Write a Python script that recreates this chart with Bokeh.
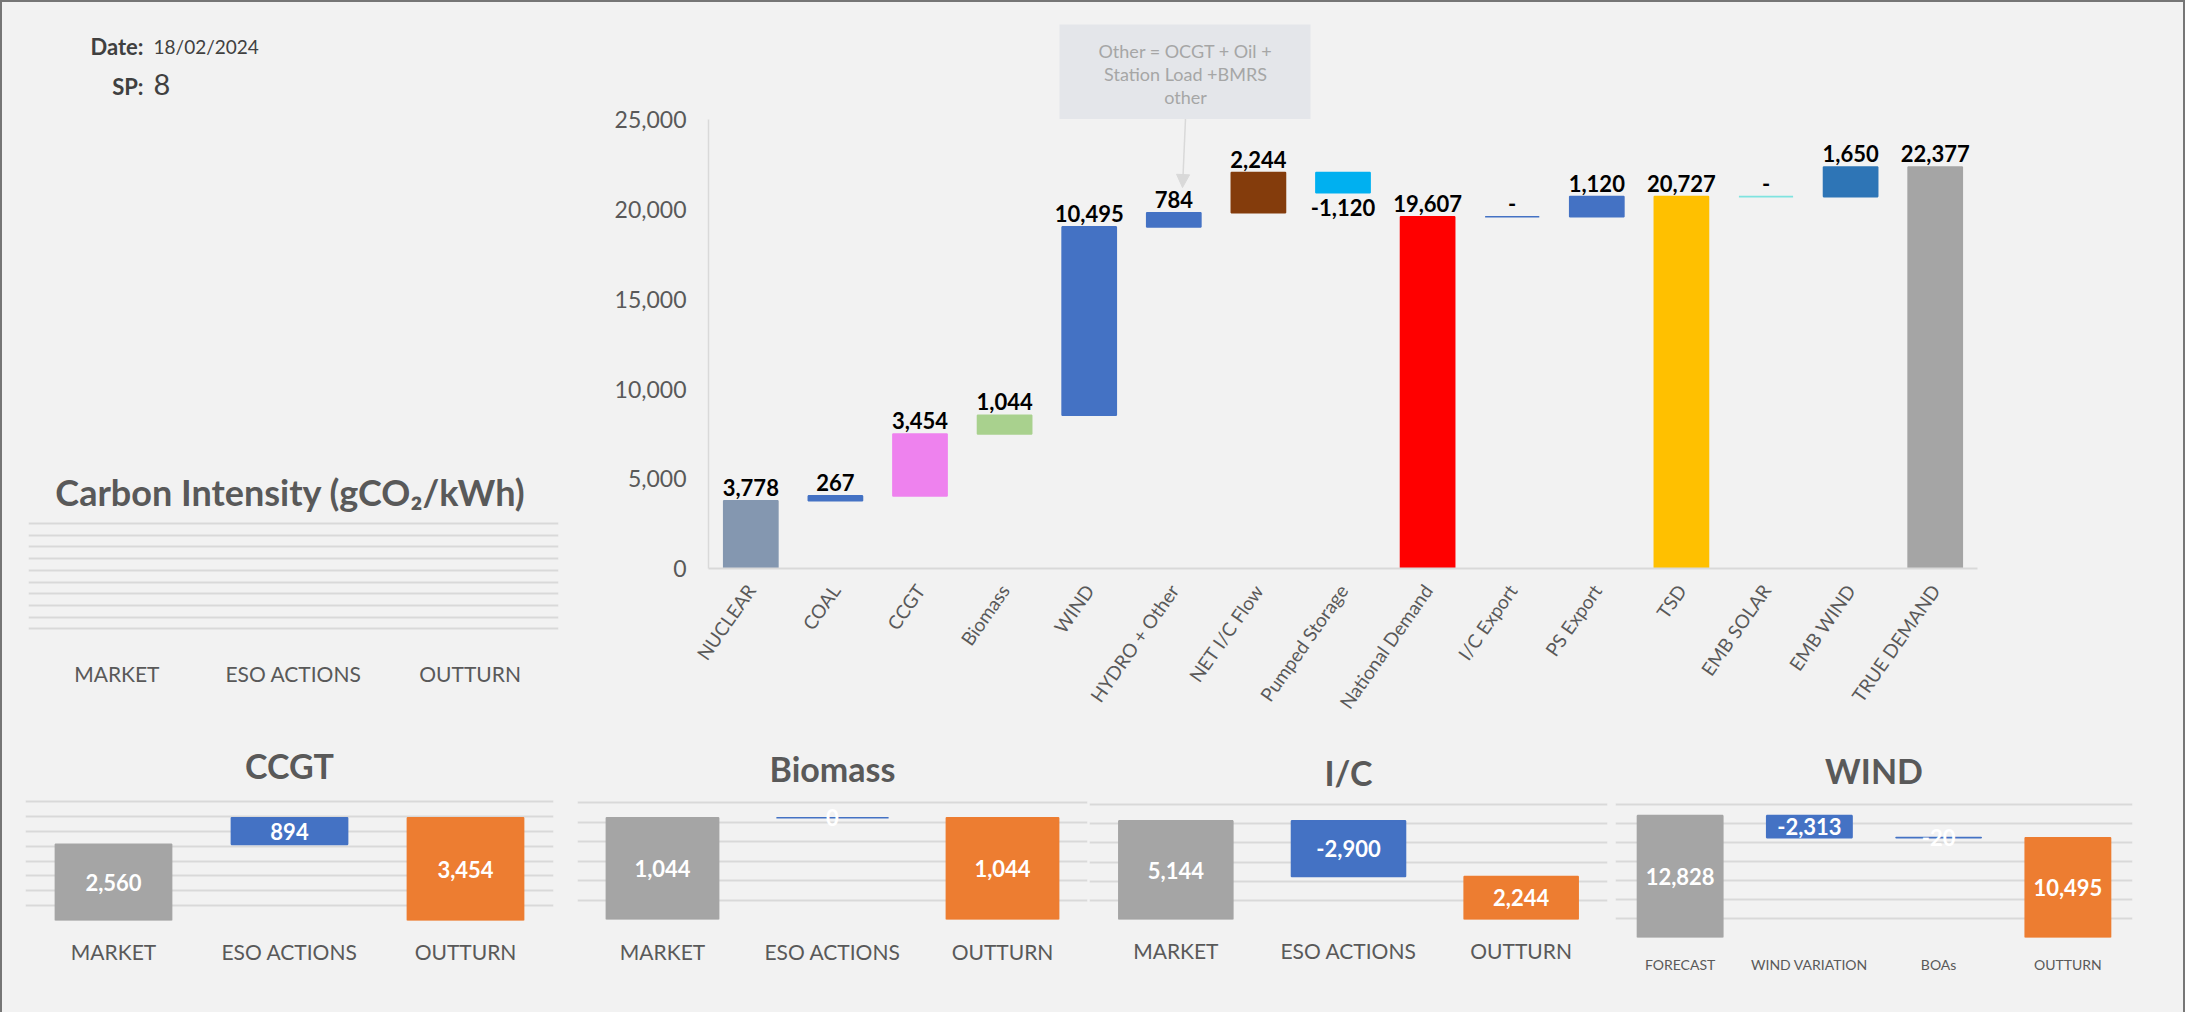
import re
from bokeh.plotting import figure
from bokeh.models import (ColumnDataSource, Label, BoxAnnotation, Arrow, NormalHead,
                          FixedTicker, NumeralTickFormatter, Range1d, FactorRange)
from bokeh.layouts import row, column
from bokeh.embed import file_html
from bokeh.resources import INLINE
from bokeh.core.properties import value, field

BG = "#f2f2f2"
FONT = "Lato"
GREY_TXT = "#595959"
GRID = "#d9d9d9"

# ---------------- data ----------------
date_text = "18/02/2024"
sp_value = "8"

categories = ["NUCLEAR", "COAL", "CCGT", "Biomass", "WIND", "HYDRO + Other",
              "NET I/C Flow", "Pumped Storage", "National Demand", "I/C Export",
              "PS Export", "TSD", "EMB SOLAR", "EMB WIND", "TRUE DEMAND"]
values = [3778, 267, 3454, 1044, 10495, 784, 2244, -1120, 19607, 0, 1120, 20727, 0, 1650, 22377]
is_total = [False, False, False, False, False, False, False, False, True,
            False, False, True, False, False, True]
bar_colors = ["#8497b0", "#4472c4", "#ee82ee", "#a9d18e", "#4472c4", "#4472c4",
              "#843c0c", "#00b0f0", "#ff0000", "#4472c4", "#4472c4", "#ffc000",
              "#7fe3df", "#2e75b6", "#a5a5a5"]
y_ticks = [0, 5000, 10000, 15000, 20000, 25000]

ci_categories = ["MARKET", "ESO ACTIONS", "OUTTURN"]

ccgt_categories = ["MARKET", "ESO ACTIONS", "OUTTURN"]
ccgt_values = [2560, 894, 3454]
biomass_categories = ["MARKET", "ESO ACTIONS", "OUTTURN"]
biomass_values = [1044, 0, 1044]
ic_categories = ["MARKET", "ESO ACTIONS", "OUTTURN"]
ic_values = [5144, -2900, 2244]
wind_categories = ["FORECAST", "WIND VARIATION", "BOAs", "OUTTURN"]
wind_values = [12828, -2313, -20, 10495]

callout_lines = ["Other = OCGT + Oil +", "Station Load +BMRS", "other"]

# page geometry (content starts after the 2px border)
LEFT0 = 2
TOP0 = 2
RIGHT1 = 2183
ROW_SPLIT = 722
BOTTOM = 1012


def waterfall(vals, totals):
    bottoms, tops = [], []
    run = 0
    for v, t in zip(vals, totals):
        if t:
            b, tp = 0, v
            run = v
        else:
            b, tp = run, run + v
            run = tp
        bottoms.append(b)
        tops.append(tp)
    return bottoms, tops


def fmt(v):
    return "-" if v == 0 else f"{v:,}"


def style_fig(f):
    f.background_fill_color = BG
    f.border_fill_color = BG
    f.outline_line_color = None
    f.frame_align = False


# ---------------- main waterfall ----------------
bottoms, tops = waterfall(values, is_total)
lab_y, lab_base, lab_off = [], [], []
for v, b, t in zip(values, bottoms, tops):
    if v < 0:
        lab_y.append(min(b, t)); lab_base.append("top"); lab_off.append(6)
    else:
        lab_y.append(max(b, t)); lab_base.append("bottom"); lab_off.append(-5)

src = ColumnDataSource(dict(x=categories, bottom=bottoms, top=tops, color=bar_colors,
                            label=[fmt(v) for v in values], ly=lab_y,
                            baseline=lab_base, yoff=lab_off))

PX_PER_MW = (571 - 120) / 25000.0
FRAME_TOP = 10
y_end = (571 - FRAME_TOP) / PX_PER_MW
MAIN_X0 = 600

p = figure(x_range=FactorRange(*categories), y_range=Range1d(0, y_end),
           width=RIGHT1 - MAIN_X0, height=ROW_SPLIT - TOP0,
           min_border_left=708 - MAIN_X0, min_border_right=RIGHT1 - 1977,
           min_border_top=FRAME_TOP - TOP0, min_border_bottom=ROW_SPLIT - 571,
           output_backend="svg", toolbar_location=None)
style_fig(p)
p.vbar(x="x", bottom="bottom", top="top", width=0.64, fill_color="color",
       line_color="color", line_width=1.6, source=src)
p.text(x="x", y="ly", text="label", text_align="center", text_baseline=field("baseline"),
       y_offset=field("yoff"), text_font=value(FONT), text_font_style="bold",
       text_font_size="22px", text_color="black", source=src)

p.xgrid.visible = False
p.ygrid.visible = False
p.xaxis.axis_line_color = GRID
p.xaxis.axis_line_width = 2
p.xaxis.major_tick_line_color = None
p.xaxis.minor_tick_line_color = None
p.xaxis.major_label_orientation = 0.96
p.xaxis.major_label_text_font = FONT
p.xaxis.major_label_text_font_size = "19px"
p.xaxis.major_label_text_color = GREY_TXT
p.xaxis.major_label_standoff = 12
p.yaxis.axis_line_color = GRID
p.yaxis.axis_line_width = 1.5
p.yaxis.major_tick_line_color = None
p.yaxis.minor_tick_line_color = None
p.yaxis.ticker = FixedTicker(ticks=y_ticks)
p.yaxis.formatter = NumeralTickFormatter(format="0,0")
p.yaxis.bounds = (0, 25000)
p.yaxis.major_label_text_font = FONT
p.yaxis.major_label_text_font_size = "23px"
p.yaxis.major_label_text_color = GREY_TXT
p.yaxis.major_label_standoff = 16


def mx(px):
    return (px - 708) / 84.6


def my(py):
    return (571 - py) / PX_PER_MW


p.add_layout(BoxAnnotation(left=mx(1059), right=mx(1310), bottom=my(119), top=my(24),
                           fill_color="#e4e6ea", fill_alpha=1.0, line_color=None))
for txt, py in zip(callout_lines, [51, 74, 97]):
    p.add_layout(Label(x=mx(1185), y=my(py), text=txt, text_align="center",
                       text_baseline="middle", text_font=FONT, text_font_size="18px",
                       text_color="#a6a6a6"))
p.add_layout(Arrow(end=NormalHead(size=13, fill_color="#d9d9d9", line_color="#d9d9d9"),
                   x_start=mx(1185), y_start=my(119), x_end=mx(1182), y_end=my(188),
                   line_color="#d9d9d9", line_width=1.5))

# ---------------- left panel: info + carbon intensity ----------------
CI_PX = 11.7
c = figure(x_range=FactorRange(*ci_categories), y_range=Range1d(0, (640 - TOP0) / CI_PX),
           width=MAIN_X0 - LEFT0, height=ROW_SPLIT - TOP0,
           min_border_left=28 - LEFT0, min_border_right=MAIN_X0 - 558,
           min_border_top=0, min_border_bottom=ROW_SPLIT - 640,
           output_backend="svg", toolbar_location=None)
style_fig(c)
c.xgrid.visible = False
c.ygrid.ticker = FixedTicker(ticks=list(range(11)))
c.ygrid.grid_line_color = GRID
c.ygrid.grid_line_width = 2
c.yaxis.visible = False
c.xaxis.axis_line_color = None
c.xaxis.major_tick_line_color = None
c.xaxis.minor_tick_line_color = None
c.xaxis.major_label_text_font = FONT
c.xaxis.major_label_text_font_size = "21px"
c.xaxis.major_label_text_color = GREY_TXT
c.xaxis.major_label_standoff = 14


def cx(px):
    return (px - 28) / (530 / 3.0)


def cy(py):
    return (640 - py) / CI_PX


c.add_layout(Label(x=cx(143), y=cy(46), text="Date:", text_align="right", text_baseline="middle",
                   text_font=FONT, text_font_style="bold", text_font_size="22px", text_color="#404040"))
c.add_layout(Label(x=cx(153), y=cy(46), text=date_text, text_align="left", text_baseline="middle",
                   text_font=FONT, text_font_size="19px", text_color="#404040"))
c.add_layout(Label(x=cx(143), y=cy(86), text="SP:", text_align="right", text_baseline="middle",
                   text_font=FONT, text_font_style="bold", text_font_size="22px", text_color="#404040"))
c.add_layout(Label(x=cx(153), y=cy(84), text=sp_value, text_align="left", text_baseline="middle",
                   text_font=FONT, text_font_size="29px", text_color="#404040"))
c.add_layout(Label(x=cx(290), y=cy(491), text="Carbon Intensity (gCO\u2082/kWh)", text_align="center",
                   text_baseline="middle", text_font=FONT, text_font_style="bold",
                   text_font_size="36px", text_color=GREY_TXT))


# ---------------- bottom panels ----------------
def make_panel(title, cats, vals, fig_x0, fig_x1, fx0, fx1, fy0, fy1, ymax, interval,
               title_py, label_size, standoff):
    totals = [True] + [False] * (len(vals) - 2) + [True]
    b, t = waterfall(vals, totals)
    colors = ["#a5a5a5"] + ["#4472c4"] * (len(vals) - 2) + ["#ed7d31"]
    s = ColumnDataSource(dict(x=cats, bottom=b, top=t, color=colors,
                              mid=[(bb + tt) / 2 for bb, tt in zip(b, t)],
                              label=[f"{v:,}" for v in vals]))
    per_px = ymax / float(fy1 - fy0)
    f = figure(x_range=FactorRange(*cats), y_range=Range1d(0, (fy1 - ROW_SPLIT) * per_px),
               width=fig_x1 - fig_x0, height=BOTTOM - ROW_SPLIT,
               min_border_left=fx0 - fig_x0, min_border_right=fig_x1 - fx1,
               min_border_top=0, min_border_bottom=BOTTOM - fy1,
               output_backend="svg", toolbar_location=None)
    style_fig(f)
    f.vbar(x="x", bottom="bottom", top="top", width=0.66, fill_color="color",
           line_color="color", line_width=1.6, source=s)
    f.text(x="x", y="mid", text="label", text_align="center", text_baseline="middle",
           text_font=value(FONT), text_font_style="bold", text_font_size="22px",
           text_color="white", source=s)
    f.xgrid.visible = False
    f.ygrid.ticker = FixedTicker(ticks=list(range(0, ymax + 1, interval)))
    f.ygrid.grid_line_color = GRID
    f.ygrid.grid_line_width = 2
    f.yaxis.visible = False
    f.xaxis.axis_line_color = None
    f.xaxis.major_tick_line_color = None
    f.xaxis.minor_tick_line_color = None
    f.xaxis.major_label_text_font = FONT
    f.xaxis.major_label_text_font_size = label_size
    f.xaxis.major_label_text_color = GREY_TXT
    f.xaxis.major_label_standoff = standoff
    f.add_layout(Label(x=len(cats) / 2.0, y=(fy1 - title_py) * per_px,
                       text=title, text_align="center", text_baseline="middle",
                       text_font=FONT, text_font_style="bold", text_font_size="34px",
                       text_color=GREY_TXT))
    return f


ccgt = make_panel("CCGT", ccgt_categories, ccgt_values, LEFT0, 576, 25, 553, 801, 920,
                  4000, 500, 765, "21px", 12)
bio = make_panel("Biomass", biomass_categories, biomass_values, 576, 1088, 577, 1087, 802, 919,
                 1200, 200, 768, "21px", 13)
ic = make_panel("I/C", ic_categories, ic_values, 1088, 1612, 1089, 1607, 804, 919,
                6000, 1000, 772, "21px", 12)
wind = make_panel("WIND", wind_categories, wind_values, 1612, RIGHT1, 1615, 2132, 804, 937,
                  14000, 2000, 770, "14px", 12)

root = column(row(c, p), row(ccgt, bio, ic, wind),
              styles={"border-left": "2px solid #767676", "border-top": "2px solid #767676",
                      "border-right": "2px solid #767676", "background-color": BG})

html = file_html(root, INLINE)
html = re.sub(r"<body>", '<body style="margin:0;padding:0;background-color:#f2f2f2;">',
              html, count=1)
open("out.html", "w").write(html)
